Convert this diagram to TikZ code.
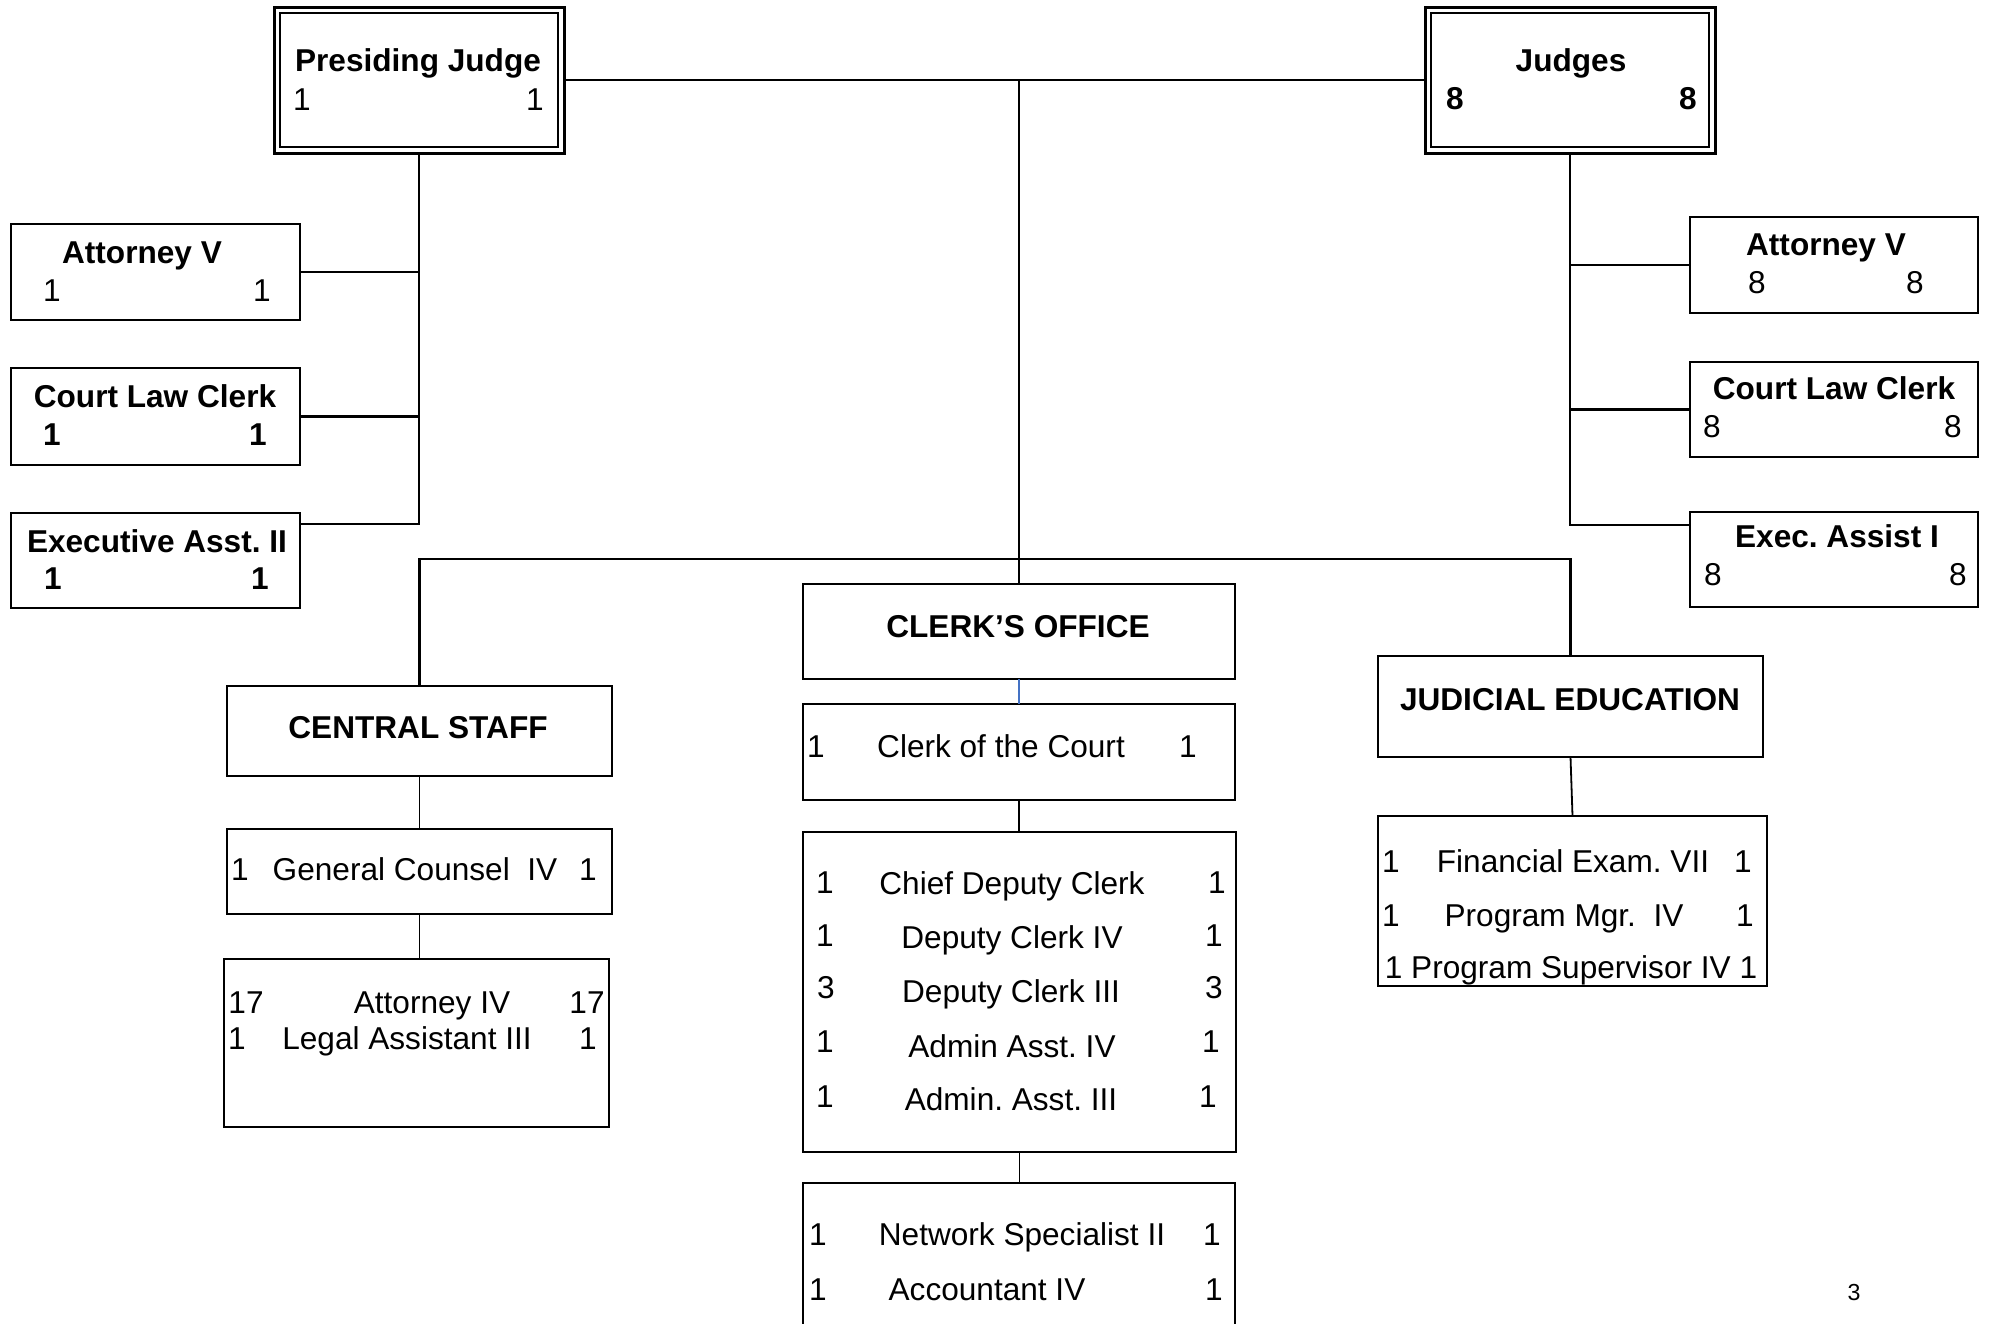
\documentclass[tikz,border=0pt]{standalone}
\usepackage{fontspec}
\setmainfont{Liberation Sans}
\usetikzlibrary{fit}
\definecolor{connblue}{HTML}{4472C4}
\begin{document}
\frenchspacing
\begin{tikzpicture}[x=0.5pt,y=-0.5pt,
  box/.style={draw, line width=1.2pt, inner sep=0pt, outer sep=0pt},
  dbox/.style={draw, line width=1.5pt, inner sep=0pt, outer sep=0pt},
  ibox/.style={draw, line width=1pt, inner sep=0pt, outer sep=0pt},
  bigbox/.style={draw, line width=1.45pt, inner sep=0pt, outer sep=0pt},
  hd/.style={font=\fontsize{15.8}{19}\selectfont\bfseries\frenchspacing, inner sep=0pt, anchor=base},
  tx/.style={font=\fontsize{15.8}{19}\selectfont\frenchspacing, inner sep=0pt, anchor=base},
  conn/.style={line width=1.4pt},
  thinconn/.style={line width=0.9pt},
]
\path[use as bounding box, clip] (0,0) rectangle (1989,1323);

% ---------- boxes ----------
\node[dbox, fit={(274,7)(564,153)}] (pj) {};
\node[ibox, fit={(280,13)(558,147)}] (pjin) {};
\node[dbox, fit={(1425,7)(1715,153)}] (jd) {};
\node[ibox, fit={(1431,13)(1709,147)}] (jdin) {};

\node[box, fit={(11,224)(300,320)}] (la) {};
\node[box, fit={(11,368)(300,465)}] (lc) {};
\node[box, fit={(11,513)(300,608)}] (lx) {};

\node[box, fit={(1690,217)(1978,313)}] (ra) {};
\node[box, fit={(1690,362)(1978,457)}] (rc) {};
\node[box, fit={(1690,512)(1978,607)}] (rx) {};

\node[box, fit={(227,686)(612,776)}] (cs) {};
\node[box, fit={(227,829)(612,914)}] (gc) {};
\node[box, fit={(224,959)(609,1127)}] (ai) {};

\node[box, fit={(803,584)(1235,679)}] (co) {};
\node[box, fit={(803,704)(1235,800)}] (cc) {};
\node[bigbox, fit={(803,832)(1236,1152)}] (cd) {};
\node[box, fit={(803,1183)(1235,1345)}] (ns) {};

\node[box, fit={(1378,656)(1763,757)}] (je) {};
\node[box, fit={(1378,816)(1767,986)}] (fe) {};

% ---------- texts ----------
\node[hd] (pjT) at (418,71) {Presiding Judge};
\node[tx] (pjL) at (302,110) {1};
\node[tx] (pjR) at (535,110) {1};

\node[hd] (jdT) at (1571,71) {Judges};
\node[hd] (jdL) at (1455,109) {8};
\node[hd] (jdR) at (1688,109) {8};

\node[hd] (laT) at (142,263) {Attorney V};
\node[tx] (laL) at (52,301) {1};
\node[tx] (laR) at (262,301) {1};

\node[hd] (lcT) at (155,407) {Court Law Clerk};
\node[hd] (lcL) at (52,445) {1};
\node[hd] (lcR) at (258,445) {1};

\node[hd] (lxT) at (157,552) {Executive Asst. II};
\node[hd] (lxL) at (53,589) {1};
\node[hd] (lxR) at (260,589) {1};

\node[hd] (raT) at (1826,255) {Attorney V};
\node[tx] (raL) at (1757,293) {8};
\node[tx] (raR) at (1915,293) {8};

\node[hd] (rcT) at (1834,399) {Court Law Clerk};
\node[tx] (rcL) at (1712,437) {8};
\node[tx] (rcR) at (1953,437) {8};

\node[hd] (rxT) at (1837,547) {Exec. Assist I};
\node[tx] (rxL) at (1713,585) {8};
\node[tx] (rxR) at (1958,585) {8};

\node[hd] (csT) at (418,738) {CENTRAL STAFF};

\node[tx] (gcL) at (240,880) {1};
\node[tx] (gcT) at (415,880) {General Counsel\ \ IV};
\node[tx] (gcR) at (588,880) {1};

\node[tx] (aiL1) at (246,1013) {17};
\node[tx] (aiT1) at (432,1013) {Attorney IV};
\node[tx] (aiR1) at (587,1013) {17};
\node[tx] (aiL2) at (237,1049) {1};
\node[tx] (aiT2) at (407,1049) {Legal Assistant III};
\node[tx] (aiR2) at (588,1049) {1};

\node[hd] (coT) at (1018,637) {CLERK’S OFFICE};

\node[tx] (ccL) at (816,757) {1};
\node[tx] (ccT) at (1001,757) {Clerk of the Court};
\node[tx] (ccR) at (1188,757) {1};

\node[tx] (cdL1) at (825,893) {1};
\node[tx] (cdT1) at (1012,894) {Chief Deputy Clerk};
\node[tx] (cdR1) at (1217,893) {1};
\node[tx] (cdL2) at (825,946) {1};
\node[tx] (cdT2) at (1012,948) {Deputy Clerk IV};
\node[tx] (cdR2) at (1214,946) {1};
\node[tx] (cdL3) at (826,998) {3};
\node[tx] (cdT3) at (1011,1002) {Deputy Clerk III};
\node[tx] (cdR3) at (1214,998) {3};
\node[tx] (cdL4) at (825,1052) {1};
\node[tx] (cdT4) at (1012,1057) {Admin Asst. IV};
\node[tx] (cdR4) at (1211,1052) {1};
\node[tx] (cdL5) at (825,1107) {1};
\node[tx] (cdT5) at (1011,1110) {Admin. Asst. III};
\node[tx] (cdR5) at (1208,1107) {1};

\node[tx] (nsL1) at (818,1245) {1};
\node[tx] (nsT1) at (1022,1245) {Network Specialist II};
\node[tx] (nsR1) at (1212,1245) {1};
\node[tx] (nsL2) at (818,1300) {1};
\node[tx] (nsT2) at (987,1300) {Accountant IV};
\node[tx] (nsR2) at (1214,1300) {1};

\node[hd] (jeT) at (1570,710) {JUDICIAL EDUCATION};

\node[tx] (feL1) at (1391,872) {1};
\node[tx] (feT1) at (1573,872) {Financial Exam. VII};
\node[tx] (feR1) at (1743,872) {1};
\node[tx] (feL2) at (1391,926) {1};
\node[tx] (feT2) at (1564,926) {Program Mgr.\ \ IV};
\node[tx] (feR2) at (1745,926) {1};
\node[tx] (feT3) at (1571,978) {1 Program Supervisor IV 1};

\node[font=\fontsize{11.6}{14}\selectfont, inner sep=0pt, anchor=base] (pg) at (1854,1300) {3};

% ---------- connectors ----------
\coordinate (top) at (1019,80);
\coordinate (hub) at (1019,559);
\draw[conn] (pj.east) -- (jd.west);
\draw[conn] (top) -- (co.north);
\draw[conn] (cs.north) -- (cs.north |- hub) -- (je.north |- hub) -- (je.north);

\coordinate (lxc) at ([yshift=-5.5pt]lx.north east);
\draw[conn] (pj.south) -- (pj.south |- lxc) -- (lxc);
\draw[conn] (la.east) -- (la.east -| pj.south);
\draw[conn] (lc.east) -- (lc.east -| pj.south);

\coordinate (rxc) at ([yshift=-6.5pt]rx.north west);
\draw[conn] (jd.south) -- (jd.south |- rxc) -- (rxc);
\draw[conn] (ra.west) -- (ra.west -| jd.south);
\draw[conn] (rc.west) -- (rc.west -| jd.south);

\draw[thinconn] (cs.south) -- (gc.north);
\draw[thinconn] (gc.south) -- (gc.south |- ai.north);

\draw[thinconn, connblue] (co.south) -- (cc.north);
\draw[thinconn] (cc.south) -- (cc.south |- cd.north);
\draw[thinconn] (cd.south) -- (cd.south |- ns.north);

\draw[thinconn] (je.south) -- (fe.north);
\end{tikzpicture}
\end{document}
